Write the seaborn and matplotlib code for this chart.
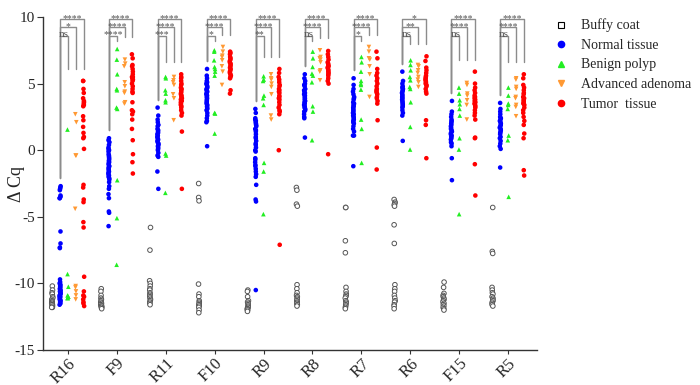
import numpy as np
import pandas as pd
import matplotlib
matplotlib.use('Agg')
import matplotlib.pyplot as plt
import seaborn as sns
from matplotlib.lines import Line2D

genes = ['R16', 'F9', 'R11', 'F10', 'R9', 'R8', 'R7', 'R6', 'F15', 'R5']
groups = ['Buffy coat', 'Normal tissue', 'Benign polyp', 'Advanced adenoma', 'Tumor  tissue']

# delta Cq per gene (same order as genes)
buffy_coat = [
    [-10.2, -10.5, -10.7, -10.8, -11.0, -11.1, -11.2, -11.3, -11.4, -11.4, -11.5, -11.5, -11.6, -11.6, -11.7, -11.8, -11.8],
    [-10.4, -10.6, -10.9, -11.1, -11.2, -11.3, -11.4, -11.5, -11.5, -11.6, -11.6, -11.7, -11.7, -11.8, -11.8, -11.9],
    [-5.8, -7.5, -9.8, -10.0, -10.2, -10.4, -10.5, -10.7, -10.8, -10.9, -11.0, -11.1, -11.2, -11.3, -11.4, -11.5, -11.6],
    [-2.5, -3.55, -3.8, -10.05, -10.8, -11.0, -11.3, -11.4, -11.5, -11.6, -11.6, -11.7, -11.8, -12.0, -12.2],
    [-10.5, -10.6, -11.0, -11.3, -11.4, -11.5, -11.6, -11.7, -11.8, -11.8, -11.9, -11.9, -12.0, -12.0, -12.1],
    [-2.8, -3.0, -4.05, -4.2, -10.1, -10.4, -10.7, -10.9, -11.0, -11.1, -11.2, -11.3, -11.4, -11.5, -11.5, -11.6, -11.7],
    [-4.3, -4.3, -6.8, -7.7, -10.3, -10.6, -10.8, -10.9, -11.0, -11.1, -11.3, -11.4, -11.5, -11.6, -11.7, -11.8, -11.9],
    [-3.7, -3.9, -4.0, -4.1, -4.2, -5.6, -7.0, -10.1, -10.4, -10.6, -10.9, -11.1, -11.3, -11.4, -11.6, -11.7, -11.9],
    [-9.9, -10.3, -10.75, -10.9, -11.0, -11.1, -11.2, -11.3, -11.4, -11.5, -11.6, -11.7, -11.8, -11.9, -12.0],
    [-4.3, -7.6, -7.75, -10.3, -10.5, -10.7, -10.8, -11.0, -11.1, -11.2, -11.3, -11.4, -11.5, -11.6, -11.7],
]
normal_tissue = [
    [-2.7, -2.8, -2.9, -3.0, -3.4, -3.5, -3.6, -3.6, -6.1, -7.0, -7.3, -7.35, -9.7, -9.9, -10.0, -10.1, -10.2, -10.3,
     -10.4, -10.5, -10.6, -10.6, -10.7, -10.8, -10.8, -10.9, -11.0, -11.0, -11.1, -11.2, -11.2, -11.3, -11.4, -11.5, -11.6],
    [0.9, 0.75, 0.6, 0.4, 0.2, 0.1, 0.0, -0.1, -0.3, -0.4, -0.5, -0.6, -0.7, -0.8, -0.9, -1.0, -1.1, -1.2, -1.3, -1.4,
     -1.5, -1.6, -1.7, -1.8, -1.9, -2.0, -2.1, -2.2, -2.4, -2.7, -2.9, -3.3, -3.6, -4.6, -4.7, -5.7],
    [3.2, 2.6, 2.3, 2.1, 1.9, 1.8, 1.6, 1.5, 1.4, 1.3, 1.2, 1.1, 1.0, 0.9, 0.8, 0.7, 0.6, 0.5, 0.4, 0.3, 0.2, 0.1, 0.0,
     -0.2, -0.4, -0.5, -1.6, -2.9],
    [6.1, 5.6, 5.4, 5.2, 5.1, 5.0, 4.9, 4.8, 4.7, 4.6, 4.5, 4.4, 4.3, 4.2, 4.1, 4.0, 3.9, 3.8, 3.7, 3.6, 3.5, 3.4, 3.3,
     3.2, 3.1, 3.0, 2.8, 2.6, 2.4, 2.2, 2.1, 0.3],
    [3.1, 2.8, 2.4, 2.3, 2.2, 2.1, 2.0, 1.9, 1.8, 1.6, 1.5, 1.4, 1.2, 1.0, 0.9, 0.7, 0.5, 0.4, 0.2, 0.0, -0.1, -0.6,
     -0.7, -0.9, -1.1, -1.2, -1.4, -1.6, -1.8, -2.0, -2.6, -3.7, -3.85, -10.5],
    [5.7, 5.4, 5.2, 5.0, 4.9, 4.8, 4.6, 4.5, 4.4, 4.3, 4.2, 4.1, 4.0, 3.9, 3.8, 3.7, 3.6, 3.5, 3.4, 3.3, 3.2, 3.1, 3.0,
     2.9, 2.7, 2.5, 2.4, 0.95],
    [5.4, 4.9, 4.6, 4.4, 4.2, 4.0, 3.9, 3.8, 3.6, 3.5, 3.4, 3.3, 3.2, 3.1, 3.0, 2.9, 2.8, 2.7, 2.6, 2.5, 2.4, 2.3, 2.2,
     2.1, 2.0, 1.8, 1.6, 1.4, 1.1, 1.1, -1.2],
    [5.9, 5.2, 5.0, 4.8, 4.7, 4.6, 4.5, 4.4, 4.3, 4.2, 4.1, 4.0, 3.9, 3.8, 3.7, 3.6, 3.5, 3.4, 3.3, 3.2, 3.0, 2.8, 2.6, 0.7],
    [3.7, 2.9, 2.7, 2.5, 2.3, 2.2, 2.1, 2.0, 1.9, 1.8, 1.7, 1.6, 1.5, 1.4, 1.3, 1.2, 1.1, 1.0, 0.9, 0.8, 0.6, 0.5, 0.3,
     -0.6, -2.25],
    [3.55, 3.1, 2.9, 2.7, 2.5, 2.4, 2.3, 2.2, 2.1, 2.0, 1.9, 1.8, 1.7, 1.6, 1.5, 1.4, 1.3, 1.2, 1.0, 0.9, 0.7, 0.5, 0.3,
     0.1, -1.3],
]
benign_polyp = [
    [1.55, -9.3, -10.25, -10.9, -11.0, -11.0, -11.1, -11.1],
    [7.6, 6.8, 5.7, 4.6, 4.5, 3.2, 3.1, -2.25, -5.1, -8.6],
    [5.5, 5.4, 4.5, 4.25, 3.75, 3.6, -0.25, -0.4, -3.2],
    [7.5, 7.4, 6.75, 6.25, 6.1, 5.9, 5.6, 2.8, 2.75, 1.25],
    [5.55, 5.3, 5.2, 4.1, 3.9, 3.4, -0.95, -1.6, -4.8],
    [7.4, 6.9, 6.25, 5.75, 5.6, 5.1, 3.3, 2.9, 0.75],
    [7.0, 6.6, 5.9, 5.2, 5.0, 4.9, 4.55, 2.3, 1.6, -0.95],
    [6.75, 6.4, 6.0, 5.5, 5.25, 4.75, 4.6, 3.6, 1.75, 0.05],
    [4.7, 4.25, 3.75, 3.45, 3.1, 2.6, 0.9, 0.05, -4.8],
    [4.7, 4.1, 3.5, 3.4, 3.1, 1.1, 0.75, -3.5],
]
advanced_adenoma = [
    [2.7, 2.1, -0.4, -0.4, -4.4, -10.2, -10.3, -10.6, -10.9, -11.2],
    [6.8, 6.5, 6.3, 5.1, 4.8, 4.4, 4.3, 3.6, 3.5],
    [5.5, 5.25, 5.1, 4.9, 4.2, 3.9, 2.25],
    [7.75, 7.4, 7.1, 7.0, 6.75, 6.3, 5.9, 4.9],
    [5.7, 5.4, 5.3, 5.0, 4.75, 4.2, 2.6, 2.3],
    [7.5, 7.0, 6.9, 6.8, 6.6, 6.0, 5.9, 5.25],
    [7.75, 7.4, 6.9, 6.8, 6.3, 5.7, 4.0],
    [6.4, 6.3, 6.0, 5.8, 5.5, 5.3, 5.1, 4.75],
    [5.05, 4.9, 4.25, 4.1, 3.75, 3.4, 2.3],
    [5.4, 5.3, 4.75, 4.6, 4.0, 3.9, 3.4, 3.25, 2.55],
]
tumor_tissue = [
    [5.2, 5.2, 4.6, 4.3, 3.9, 3.7, 3.6, 3.5, 3.4, 3.3, 2.55, 2.25, 1.75, 1.3, 1.0, 0.9, 0.1, -2.6, -2.8, -3.7, -3.9,
     -5.4, -5.8, -9.5, -10.6, -10.9, -11.0, -11.2, -11.4, -11.5, -11.7],
    [7.2, 6.9, 6.4, 6.3, 6.1, 5.9, 5.7, 5.5, 5.5, 5.4, 5.3, 5.2, 5.0, 4.8, 4.6, 4.4, 4.3, 3.6, 3.0, 2.9, 2.7, 2.3, 1.6,
     0.75, -0.3, -0.9, -1.75],
    [5.7, 5.5, 5.4, 5.2, 5.0, 4.9, 4.7, 4.6, 4.5, 4.4, 4.3, 4.2, 4.1, 4.0, 3.9, 3.8, 3.7, 3.6, 3.5, 3.4, 3.3, 3.2, 3.0,
     2.8, 2.6, 1.4, -2.9],
    [7.4, 7.3, 7.2, 7.0, 6.9, 6.8, 6.7, 6.6, 6.5, 6.4, 6.3, 6.2, 6.1, 6.0, 5.9, 5.8, 5.7, 5.6, 5.5, 5.4, 4.5, 4.25],
    [6.1, 5.8, 5.5, 5.3, 5.1, 4.9, 4.8, 4.6, 4.5, 4.4, 4.3, 4.1, 4.0, 3.9, 3.8, 3.6, 3.4, 3.2, 3.0, 2.9, 2.7, 0.0, -7.1],
    [7.45, 7.2, 7.0, 6.8, 6.6, 6.5, 6.4, 6.3, 6.2, 6.1, 6.0, 5.9, 5.8, 5.7, 5.6, 5.4, 5.2, 5.0, -0.3],
    [7.4, 6.9, 6.1, 5.8, 5.6, 5.4, 5.2, 5.0, 4.8, 4.6, 4.5, 4.4, 4.3, 4.2, 4.0, 3.9, 3.7, 3.5, 2.25, 0.2, -1.45],
    [7.05, 6.7, 6.2, 6.0, 5.8, 5.6, 5.5, 5.4, 5.3, 5.2, 5.1, 5.0, 4.9, 4.8, 4.6, 4.4, 4.25, 2.25, 1.9, -0.6],
    [5.9, 5.0, 4.7, 4.5, 4.3, 4.1, 4.0, 3.9, 3.8, 3.7, 3.6, 3.5, 3.4, 3.3, 3.2, 3.0, 2.8, 2.6, 2.3, 0.95, 0.9, -1.05, -3.4],
    [5.7, 5.4, 4.9, 4.7, 4.5, 4.3, 4.2, 4.0, 3.9, 3.8, 3.7, 3.6, 3.5, 3.4, 3.2, 3.0, 2.8, 2.5, 2.2, 1.9, 1.25, 0.9,
     -1.5, -1.9],
]

# Normal tissue vs polyp / adenoma / tumor
sig_polyp = ['ns', '****', '***', '*', '**', 'ns', '*', 'ns', 'ns', 'ns']
sig_adenoma = ['*', '****', '****', '****', '****', '****', '****', '**', '****', '****']
sig_tumor = ['****', '****', '****', '****', '****', '****', '****', '*', '****', '****']

colors = ['white', '#0000ff', '#22ee22', '#ff9933', '#ff0000']
markers = ['o', 'o', '^', 'v', 'o']

rows = []
for grp, vals in zip(groups, [buffy_coat, normal_tissue, benign_polyp, advanced_adenoma, tumor_tissue]):
    for gene, lst in zip(genes, vals):
        for v in lst:
            rows.append((gene, grp, v))
df = pd.DataFrame(rows, columns=['gene', 'group', 'dcq'])

sns.set_style('ticks')
plt.rcParams['font.family'] = ['Liberation Serif', 'DejaVu Serif']
plt.rcParams['axes.unicode_minus'] = False

fig = plt.figure(figsize=(7, 3.85), dpi=100)
ax = fig.add_axes([0.0614, 0.0909, 0.7057, 0.8649])

np.random.seed(3)
palette = dict(zip(groups, colors))
for grp, mk in zip(groups, markers):
    sub = df[df['group'] == grp]
    kw = dict(edgecolor='#555555', linewidth=0.7) if grp == 'Buffy coat' else dict(linewidth=0)
    sns.stripplot(data=sub, x='gene', y='dcq', hue='group', order=genes, hue_order=groups,
                  palette=palette, dodge=True, jitter=0.06, marker=mk, size=3.3,
                  legend=False, ax=ax, **kw)

ax.set_xlim(-0.51, 9.59)
ax.set_ylim(-15, 10)
ax.set_yticks([-15, -10, -5, 0, 5, 10])
ax.set_xlabel('')
ax.set_ylabel('Δ Cq', fontsize=13)
ax.yaxis.set_label_coords(-0.036, 0.5)
sns.despine(ax=ax)
for s in ['left', 'bottom']:
    ax.spines[s].set_color('#333333')
    ax.spines[s].set_linewidth(1.0)
ax.tick_params(axis='y', labelsize=11, length=4, pad=2, color='#333333')
ax.tick_params(axis='x', labelsize=12, length=3, pad=1, color='#333333')
plt.setp(ax.get_xticklabels(), rotation=45, ha='right', rotation_mode='anchor')

# significance brackets from Normal tissue to the other groups
step = 0.8 / len(groups)
offs = [-0.4 + step / 2 + step * k for k in range(len(groups))]
levels = [8.6, 9.25, 9.85]
for i, gene in enumerate(genes):
    top = max(max(benign_polyp[i]), max(advanced_adenoma[i]), max(tumor_tissue[i]))
    x0 = i + offs[1]
    y0 = max(normal_tissue[i]) + 0.6
    for k, (lab, lev) in enumerate(zip([sig_polyp[i], sig_adenoma[i], sig_tumor[i]], levels)):
        x1 = i + offs[2 + k]
        y1 = min(top + 0.9, lev - 0.4)
        ax.plot([x0, x0, x1, x1], [y0, lev, lev, y1], color='#8c8c8c', lw=1.0, clip_on=False)
        if lab == 'ns':
            ax.text((x0 + x1) / 2, lev - 0.1, lab, ha='center', va='baseline', fontsize=8, color='#555555')
        else:
            ax.text((x0 + x1) / 2, lev - 0.14, lab, ha='center', va='baseline', fontsize=7, color='#555555')

handles = [Line2D([], [], ls='', marker='s', mfc='white', mec='black', ms=4, mew=0.8)]
for c, m in zip(colors[1:], markers[1:]):
    handles.append(Line2D([], [], ls='', marker=m, mfc=c, mec=c, ms=4.5))
fig.legend(handles, groups, loc='upper left', bbox_to_anchor=(0.784, 0.966), borderaxespad=0,
           frameon=False, fontsize=10, handlelength=1.0, handletextpad=0.9, labelspacing=0.47)

fig.savefig('out.png', dpi=100)
